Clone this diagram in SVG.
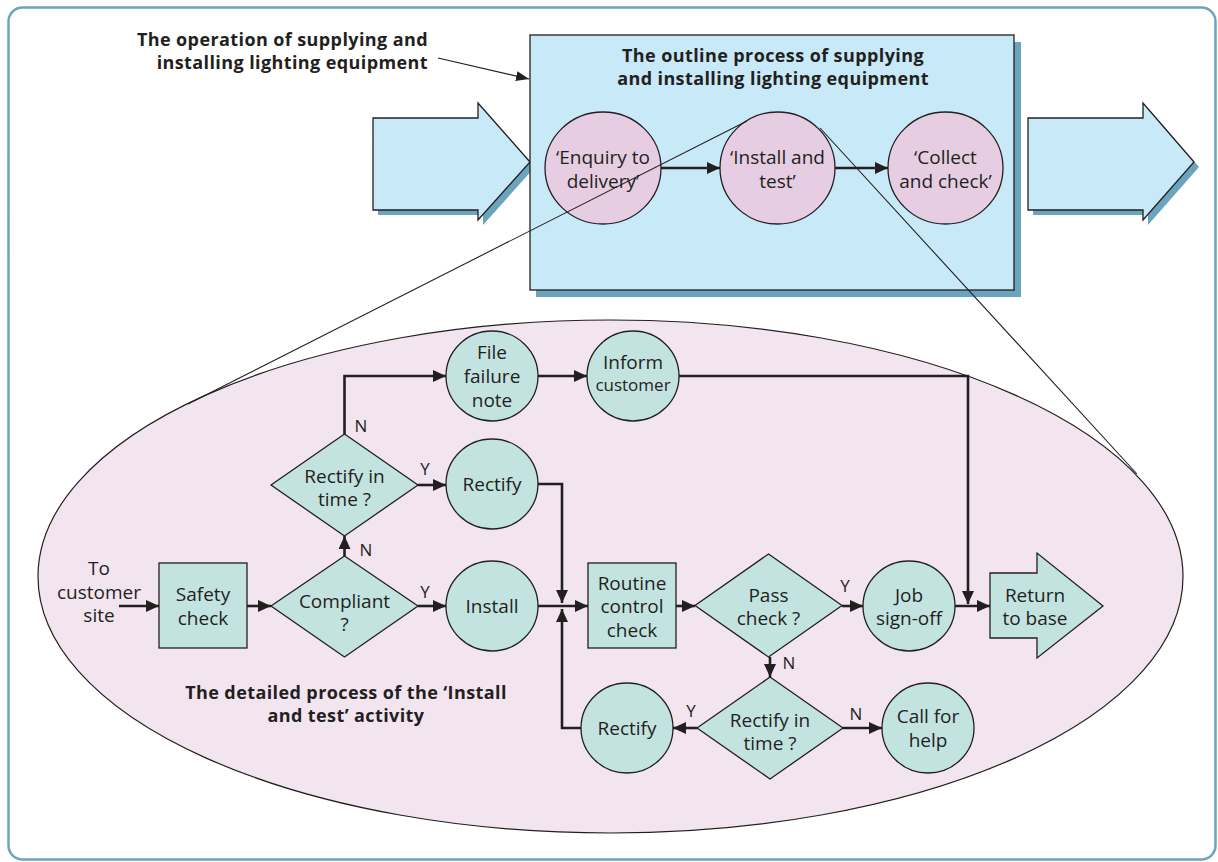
<svg xmlns="http://www.w3.org/2000/svg" width="1218" height="862" viewBox="0 0 1218 862">
  <style>
    text { font-family: "Open Sans", "Liberation Sans", sans-serif; fill: #231f20; }
    .lbl { font-size: 19px; text-anchor: middle; }
    .yn { font-size: 17px; text-anchor: middle; }
    .head { font-size: 18px; font-weight: bold; letter-spacing: 0.4px; }
    .frame { fill: #ffffff; stroke: #6aa4bd; stroke-width: 2.5; }
    .blue { fill: #c7e9f8; stroke: #231f20; stroke-width: 1.3; }
    .shadow { fill: #6aa4bd; }
    .pink { fill: #e6cde2; stroke: #231f20; stroke-width: 1.3; }
    .teal { fill: #c3e3e0; stroke: #231f20; stroke-width: 1.3; }
    .flow { fill: none; stroke: #231f20; stroke-width: 2.6; }
    .thin { fill: none; stroke: #231f20; stroke-width: 1.1; }
  </style>
  <defs>
    <marker id="ah" markerUnits="userSpaceOnUse" markerWidth="14" markerHeight="12" refX="13" refY="6" orient="auto">
      <path d="M0,0 L13,6 L0,12 z" fill="#231f20"/>
    </marker>
    <marker id="ahs" markerUnits="userSpaceOnUse" markerWidth="14" markerHeight="12" refX="13" refY="6" orient="auto">
      <path d="M0,1 L13,6 L0,11 z" fill="#231f20"/>
    </marker>
  </defs>

  <!-- page frame -->
  <rect class="frame" x="8.5" y="7.5" width="1207" height="852" rx="14"/>

  <!-- heading for the whole operation -->
  <g id="operation-label">
    <text class="head" text-anchor="end" x="428" y="46">The operation of supplying and</text>
    <text class="head" text-anchor="end" x="428" y="69">installing lighting equipment</text>
  </g>

  <!-- input / output block arrows -->
  <g id="input-arrow">
    <path class="shadow" d="M378,123 H483 V108 L535,167 L483,225 V215 H378 z"/>
    <path class="blue" d="M373,118 H478 V103 L530,162 L478,220 V210 H373 z"/>
  </g>
  <g id="output-arrow">
    <path class="shadow" d="M1033,123 H1148 V108 L1199,167 L1148,225 V215 H1033 z"/>
    <path class="blue" d="M1028,118 H1143 V103 L1194,162 L1143,220 V210 H1028 z"/>
  </g>

  <!-- outline process box -->
  <g id="outline-box">
    <rect class="shadow" x="536" y="42" width="485" height="255"/>
    <rect class="blue" x="530" y="35" width="484" height="255"/>
    <text class="head" text-anchor="middle" x="773" y="62">The outline process of supplying</text>
    <text class="head" text-anchor="middle" x="773" y="85">and installing lighting equipment</text>
  </g>

  <g id="enquiry">
    <ellipse class="pink" cx="603" cy="168" rx="58" ry="56"/>
    <text class="lbl" x="603" y="164">‘Enquiry to</text>
    <text class="lbl" x="603" y="188">delivery’</text>
  </g>
  <g id="install-test">
    <ellipse class="pink" cx="777.5" cy="168" rx="57.5" ry="56"/>
    <text class="lbl" x="777.5" y="164">‘Install and</text>
    <text class="lbl" x="777.5" y="188">test’</text>
  </g>
  <g id="collect">
    <ellipse class="pink" cx="945.5" cy="168" rx="57.5" ry="56"/>
    <text class="lbl" x="945.5" y="164">‘Collect</text>
    <text class="lbl" x="945.5" y="188">and check’</text>
  </g>

  <!-- detail ellipse -->
  <g id="detail-area">
    <ellipse cx="610.5" cy="576.5" rx="572.5" ry="256.5" fill="#f3e5f0" stroke="#231f20" stroke-width="1.2"/>
    <text class="head" text-anchor="middle" x="346" y="699">The detailed process of the ‘Install</text>
    <text class="head" text-anchor="middle" x="346" y="722">and test’ activity</text>
  </g>

  <!-- detail nodes -->
  <g id="to-site">
    <text class="lbl" x="99" y="575">To</text>
    <text class="lbl" x="99" y="599">customer</text>
    <text class="lbl" x="99" y="622">site</text>
  </g>
  <g id="safety-check">
    <rect class="teal" x="159" y="563" width="88" height="85"/>
    <text class="lbl" x="203" y="601">Safety</text>
    <text class="lbl" x="203" y="625">check</text>
  </g>
  <g id="compliant">
    <path class="teal" d="M344.5,556 L418,606 L344.5,657 L271,606 z"/>
    <text class="lbl" x="344.5" y="608">Compliant</text>
    <text class="lbl" x="344.5" y="631">?</text>
  </g>
  <g id="rectify-time-1">
    <path class="teal" d="M344.5,434 L418,485 L344.5,536 L271,485 z"/>
    <text class="lbl" x="344.5" y="483">Rectify in</text>
    <text class="lbl" x="344.5" y="506">time ?</text>
  </g>
  <g id="install">
    <ellipse class="teal" cx="492" cy="606" rx="46" ry="45"/>
    <text class="lbl" x="492" y="613">Install</text>
  </g>
  <g id="rectify-1">
    <ellipse class="teal" cx="492" cy="484" rx="46" ry="45"/>
    <text class="lbl" x="492" y="491">Rectify</text>
  </g>
  <g id="file-failure">
    <ellipse class="teal" cx="492" cy="376" rx="46" ry="45"/>
    <text class="lbl" x="492" y="359">File</text>
    <text class="lbl" x="492" y="383">failure</text>
    <text class="lbl" x="492" y="407">note</text>
  </g>
  <g id="inform-customer">
    <ellipse class="teal" cx="633" cy="376" rx="46" ry="45"/>
    <text class="lbl" x="633" y="369">Inform</text>
    <text class="lbl" x="633" y="391" style="font-size:17px">customer</text>
  </g>
  <g id="routine-check">
    <rect class="teal" x="588" y="563" width="88" height="85"/>
    <text class="lbl" x="632" y="590">Routine</text>
    <text class="lbl" x="632" y="613">control</text>
    <text class="lbl" x="632" y="637">check</text>
  </g>
  <g id="pass-check">
    <path class="teal" d="M768.5,554 L842,605.5 L768.5,657 L695,605.5 z"/>
    <text class="lbl" x="768.5" y="602">Pass</text>
    <text class="lbl" x="768.5" y="625">check ?</text>
  </g>
  <g id="job-signoff">
    <ellipse class="teal" cx="909" cy="606" rx="46" ry="45"/>
    <text class="lbl" x="909" y="602">Job</text>
    <text class="lbl" x="909" y="625">sign-off</text>
  </g>
  <g id="return-base">
    <path class="teal" d="M990,573 H1037 V553 L1103,606 L1037,658 V638 H990 z"/>
    <text class="lbl" x="1035" y="602">Return</text>
    <text class="lbl" x="1035" y="625">to base</text>
  </g>
  <g id="rectify-time-2">
    <path class="teal" d="M770,677 L843,728 L770,779 L697,728 z"/>
    <text class="lbl" x="770" y="727">Rectify in</text>
    <text class="lbl" x="770" y="750">time ?</text>
  </g>
  <g id="rectify-2">
    <ellipse class="teal" cx="627" cy="728" rx="46" ry="45"/>
    <text class="lbl" x="627" y="735">Rectify</text>
  </g>
  <g id="call-help">
    <ellipse class="teal" cx="928" cy="728" rx="46" ry="45"/>
    <text class="lbl" x="928" y="723">Call for</text>
    <text class="lbl" x="928" y="747">help</text>
  </g>

  <!-- connectors -->
  <g id="connectors">
    <!-- pointer from the operation heading -->
    <line class="thin" x1="438" y1="58" x2="529" y2="79" marker-end="url(#ahs)"/>
    <!-- outline flow -->
    <line class="flow" x1="661" y1="168" x2="720" y2="168" marker-end="url(#ah)"/>
    <line class="flow" x1="835" y1="168" x2="888" y2="168" marker-end="url(#ah)"/>
    <!-- zoom lines from 'Install and test' to the detail -->
    <line class="thin" x1="747" y1="121" x2="188" y2="404"/>
    <line class="thin" x1="820" y1="128" x2="1137" y2="474"/>

    <!-- detail flow -->
    <line class="flow" x1="119" y1="606" x2="159" y2="606" marker-end="url(#ah)"/>
    <line class="flow" x1="247" y1="606" x2="271" y2="606" marker-end="url(#ah)"/>
    <line class="flow" x1="418" y1="606" x2="446" y2="606" marker-end="url(#ah)"/>
    <line class="flow" x1="344.5" y1="556" x2="344.5" y2="536" marker-end="url(#ah)"/>
    <line class="flow" x1="418" y1="485" x2="446" y2="485" marker-end="url(#ah)"/>
    <path class="flow" d="M344.5,434 V376 H446" marker-end="url(#ah)"/>
    <line class="flow" x1="538" y1="376" x2="587" y2="376" marker-end="url(#ah)"/>
    <path class="flow" d="M679,376 H968 V604" marker-end="url(#ah)"/>
    <path class="flow" d="M538,484 H562 V603" marker-end="url(#ah)"/>
    <line class="flow" x1="538" y1="606" x2="588" y2="606" marker-end="url(#ah)"/>
    <line class="flow" x1="676" y1="606" x2="695" y2="606" marker-end="url(#ah)"/>
    <line class="flow" x1="842" y1="606" x2="863" y2="606" marker-end="url(#ah)"/>
    <line class="flow" x1="955" y1="606" x2="990" y2="606" marker-end="url(#ah)"/>
    <line class="flow" x1="770" y1="657" x2="770" y2="677" marker-end="url(#ah)"/>
    <line class="flow" x1="697" y1="728" x2="673" y2="728" marker-end="url(#ah)"/>
    <line class="flow" x1="843" y1="728" x2="882" y2="728" marker-end="url(#ah)"/>
    <path class="flow" d="M581,728 H562 V609" marker-end="url(#ah)"/>

    <!-- branch labels -->
    <text class="yn" x="361" y="432">N</text>
    <text class="yn" x="366" y="556">N</text>
    <text class="yn" x="425" y="475">Y</text>
    <text class="yn" x="425" y="598">Y</text>
    <text class="yn" x="845" y="592">Y</text>
    <text class="yn" x="789" y="669">N</text>
    <text class="yn" x="691" y="717">Y</text>
    <text class="yn" x="856" y="720">N</text>
  </g>
</svg>
